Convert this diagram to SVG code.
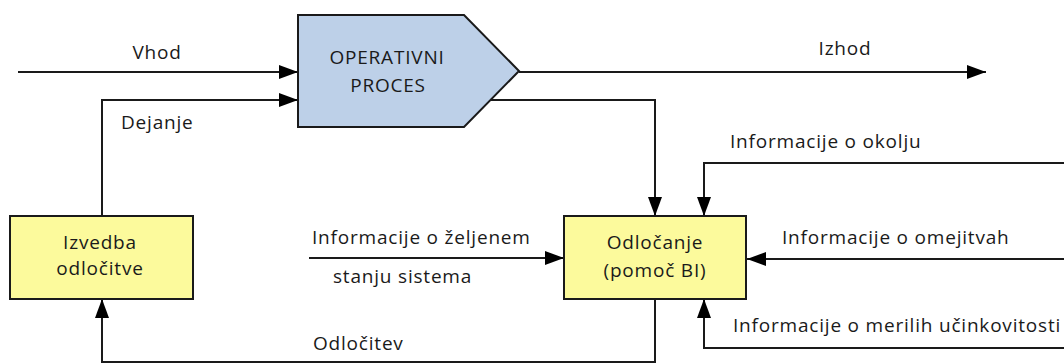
<svg xmlns="http://www.w3.org/2000/svg" width="1064" height="363" viewBox="0 0 1064 363">
  <style>
    .lbl { font-family: "Open Sans", "Noto Sans", "Liberation Sans", sans-serif; font-size: 19px; letter-spacing: 0.8px; fill: #1a1a1a; }
    .mid { text-anchor: middle; }
    .wire { fill: none; stroke: #1a1a1a; stroke-width: 2; }
    .box { stroke: #1a1a1a; stroke-width: 2; }
  </style>
  <defs>
    <marker id="arrow" markerWidth="19" markerHeight="14" refX="19" refY="7" orient="auto" markerUnits="userSpaceOnUse">
      <path d="M0,0 L19,7 L0,14 Z" fill="#000"/>
    </marker>
  </defs>

  <rect width="1064" height="363" fill="#fff"/>

  <g id="connectors">
    <!-- Vhod -->
    <path class="wire" d="M18,72 H298" marker-end="url(#arrow)"/>
    <!-- Izhod -->
    <path class="wire" d="M519,72 H986" marker-end="url(#arrow)"/>
    <!-- Dejanje -->
    <path class="wire" d="M102,216 V100 H298" marker-end="url(#arrow)"/>
    <!-- process feedback to decision -->
    <path class="wire" d="M491,100 H655 V216" marker-end="url(#arrow)"/>
    <!-- environment information -->
    <path class="wire" d="M1064,163 H704 V216" marker-end="url(#arrow)"/>
    <!-- desired state information -->
    <path class="wire" d="M309,258 H564" marker-end="url(#arrow)"/>
    <!-- constraints information -->
    <path class="wire" d="M1064,259 H747" marker-end="url(#arrow)"/>
    <!-- performance criteria information -->
    <path class="wire" d="M1064,348 H704 V299" marker-end="url(#arrow)"/>
    <!-- decision -->
    <path class="wire" d="M655,299 V362 H102 V299" marker-end="url(#arrow)"/>
  </g>

  <g id="operativni-proces">
    <path class="box" d="M298,15 H464 L519,71 L464,127 H298 Z" fill="#bdd0e8"/>
    <text class="lbl mid" x="387" y="64">OPERATIVNI</text>
    <text class="lbl mid" x="388" y="92">PROCES</text>
  </g>

  <g id="izvedba-odlocitve">
    <rect class="box" x="10" y="216" width="183" height="83" fill="#fcfa9c"/>
    <text class="lbl mid" x="100" y="249">Izvedba</text>
    <text class="lbl mid" x="100" y="275">odločitve</text>
  </g>

  <g id="odlocanje">
    <rect class="box" x="564" y="216" width="182" height="83" fill="#fcfa9c"/>
    <text class="lbl mid" x="655" y="249">Odločanje</text>
    <text class="lbl mid" x="655" y="277">(pomoč BI)</text>
  </g>

  <g id="labels">
    <text class="lbl mid" x="157" y="59">Vhod</text>
    <text class="lbl mid" x="845" y="55">Izhod</text>
    <text class="lbl" x="121" y="129">Dejanje</text>
    <text class="lbl" x="730" y="148">Informacije o okolju</text>
    <text class="lbl" x="312" y="244">Informacije o željenem</text>
    <text class="lbl" x="333" y="283">stanju sistema</text>
    <text class="lbl" x="782" y="244">Informacije o omejitvah</text>
    <text class="lbl" x="733" y="332">Informacije o merilih učinkovitosti</text>
    <text class="lbl" x="313" y="350">Odločitev</text>
  </g>
</svg>
